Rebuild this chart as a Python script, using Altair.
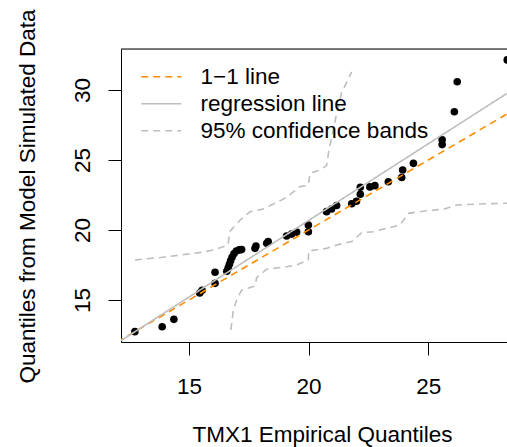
import altair as alt
import pandas as pd

# Q-Q points (empirical vs simulated quantiles)
emp_q = [12.74, 13.88, 14.37, 15.45, 15.55, 16.09, 16.09, 16.58, 16.64, 16.69,
         16.74, 16.80, 16.88, 16.98, 17.10, 17.20, 17.76, 17.80, 18.25, 18.31,
         19.08, 19.29, 19.50, 19.99, 19.99, 20.75, 20.96, 21.17, 21.80, 22.00,
         22.16, 22.16, 22.56, 22.77, 23.33, 23.89, 23.93, 24.38, 25.58, 25.58,
         26.09, 26.21, 28.30]
sim_q = [12.74, 13.09, 13.62, 15.50, 15.70, 16.19, 16.98, 17.05, 17.30, 17.55,
         17.80, 18.05, 18.30, 18.50, 18.58, 18.60, 18.69, 18.85, 19.05, 19.17,
         19.57, 19.71, 19.85, 19.88, 20.35, 21.31, 21.50, 21.75, 21.88, 22.05,
         22.55, 23.05, 23.08, 23.17, 23.45, 23.75, 24.29, 24.76, 26.10, 26.45,
         28.45, 30.59, 32.15]

# 1-1 line endpoints
one_x = [12.0, 29.0]
one_y = [12.0, 29.0]

# regression line endpoints
reg_x = [12.16, 28.29]
reg_y = [12.10, 29.76]

# upper 95% confidence band
up_x = [12.74, 13.90, 15.50, 16.10, 16.63, 16.71, 17.13, 17.55, 18.10, 18.87,
        19.20, 19.64, 19.99, 20.06, 20.48, 20.75, 20.85, 21.17, 21.38, 21.80]
up_y = [17.86, 18.05, 18.40, 18.60, 18.93, 19.90, 20.70, 21.30, 21.50, 22.14,
        22.50, 23.10, 23.20, 24.05, 24.29, 24.60, 25.71, 28.30, 29.80, 31.30]

# lower 95% confidence band
lo_x = [16.75, 16.85, 16.99, 17.20, 17.76, 17.83, 18.25, 19.08, 19.50, 19.99,
        20.00, 20.75, 21.17, 21.80, 22.22, 22.70, 23.82, 24.17, 24.93, 25.63,
        26.19, 27.16, 28.40]
lo_y = [12.86, 14.20, 15.00, 15.70, 16.00, 16.60, 17.20, 17.38, 17.50, 17.86,
        18.50, 18.69, 18.93, 19.17, 19.81, 19.88, 20.36, 21.19, 21.38, 21.48,
        21.79, 21.86, 21.92]

names = ["1\u22121 line", "regression line", "95% confidence bands"]
ORANGE = "#FF8C00"
GRAY = "#BEBEBE"
FS = 22.5

pts = pd.DataFrame({"x": emp_q, "y": sim_q})

rows = []
def add(series, lid, xs, ys):
    for i, (a, b) in enumerate(zip(xs, ys)):
        rows.append({"series": series, "line_id": lid, "order": i, "x": a, "y": b})
add(names[0], "one", one_x, one_y)
add(names[1], "reg", reg_x, reg_y)
add(names[2], "up", up_x, up_y)
add(names[2], "lo", lo_x, lo_y)
lines = pd.DataFrame(rows)

xscale = alt.Scale(domain=[12.16, 28.29], nice=False, zero=False)
yscale = alt.Scale(domain=[12.0, 32.93], nice=False, zero=False)

xaxis = alt.Axis(values=[15, 20, 25], tickSize=13, labelPadding=38,
                 labelBaseline="alphabetic", labelFlush=False, grid=False,
                 title="TMX1 Empirical Quantiles", titleX=201, titleY=99,
                 titleAlign="center", titleBaseline="alphabetic")
yaxis = alt.Axis(values=[15, 20, 25, 30], tickSize=13, labelPadding=19,
                 labelAngle=270, labelAlign="center", labelBaseline="alphabetic",
                 labelFlush=False, grid=False,
                 title="Quantiles from Model Simulated Data", titleAngle=270,
                 titleX=-87, titleY=147, titleAlign="center",
                 titleBaseline="alphabetic")

def X():
    return alt.X("x:Q", scale=xscale, axis=xaxis)

def Y():
    return alt.Y("y:Q", scale=yscale, axis=yaxis)

points = alt.Chart(pts).mark_circle(size=58, color="black", opacity=1).encode(
    x=X(), y=Y()
)

line_layer = alt.Chart(lines).mark_line(clip=True, strokeWidth=1.6).encode(
    x=X(), y=Y(),
    color=alt.Color("series:N", scale=alt.Scale(domain=names, range=[ORANGE, GRAY, GRAY]),
                    legend=alt.Legend(title=None)),
    strokeDash=alt.StrokeDash("series:N",
                              scale=alt.Scale(domain=names, range=[[7, 5], [1, 0], [7, 5]]),
                              legend=alt.Legend(title=None)),
    detail="line_id:N",
    order="order:Q",
)

top = alt.Chart(pd.DataFrame({"a": [0]})).mark_rule(color="black", strokeWidth=1).encode(
    x=alt.value(0), x2=alt.value(386), y=alt.value(0)
)

chart = alt.layer(points, line_layer, top).properties(
    width=386, height=293,
    autosize=alt.AutoSizeParams(type="none"),
    padding={"left": 121, "top": 49, "right": 0, "bottom": 105},
    background="white",
).configure_view(stroke=None).configure(
    font="Liberation Sans"
).configure_axis(
    labelFontSize=FS, titleFontSize=FS, titleFontWeight="normal",
    labelColor="black", titleColor="black", tickColor="black",
    domainColor="black", domainWidth=1, tickWidth=1,
).configure_legend(
    orient="none", legendX=29, legendY=16.5, padding=0,
    symbolType="M-2,0H2", symbolSize=400, symbolStrokeWidth=1.6,
    labelFontSize=FS, labelColor="black", labelOffset=28, rowPadding=4,
    labelLimit=400,
)

chart.save("out.html", embed_options={"renderer": "svg", "actions": False})
